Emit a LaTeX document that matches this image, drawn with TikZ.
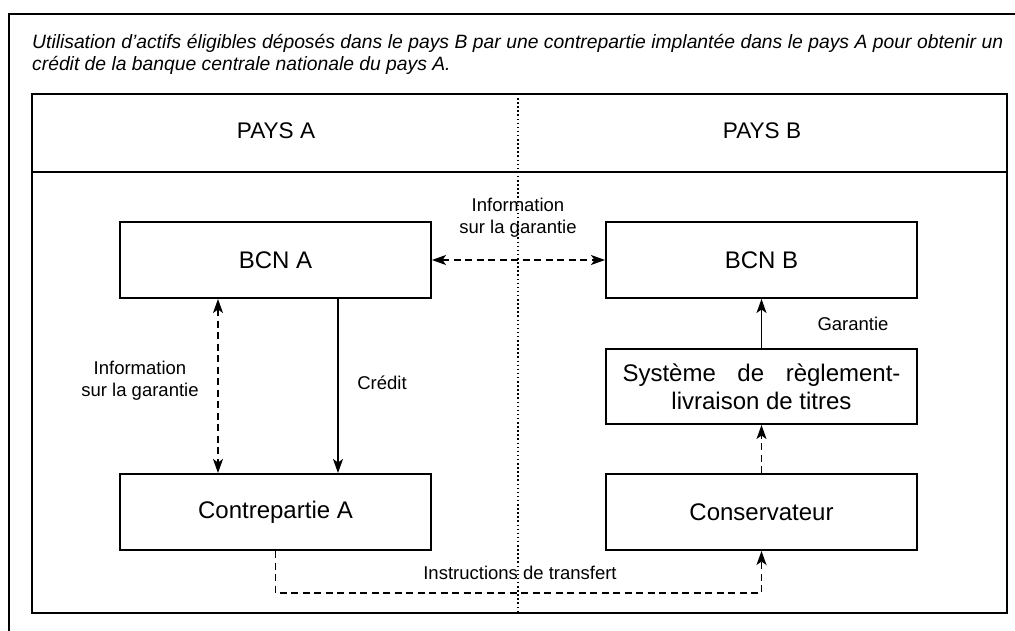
\documentclass[tikz,border=0pt]{standalone}
\usepackage{fontspec}
\setmainfont{Liberation Sans}
\usetikzlibrary{arrows.meta}
\tikzset{%
    frame/.style={draw, line width=2pt},
    bank/.style={%
        frame, inner sep=0pt, minimum width=311pt, minimum height=76pt,
        font=\fontsize{24}{28}\selectfont, align=center
    },
    lbl/.style={font=\fontsize{18.5}{22}\selectfont, align=center},
    flow/.style={line width=1.2pt, -{Stealth[length=14pt,width=10pt,inset=3.5pt]}},
    dflow/.style={flow, dash pattern=on 7pt off 4.5pt},
}

\begin{document}
\begin{tikzpicture}[x=1pt,y=-1pt]
\useasboundingbox (0,0) rectangle (1015,631);
%\draw [help lines] (0,0) grid (1015,631);
% frames
\draw[frame] (9,660) |- (1040,14);
\node[anchor=north west, inner sep=0pt, align=left,
      font=\itshape\fontsize{19.3}{22}\selectfont] (T) at (32,34)
  {\makebox[971pt][s]{Utilisation d'actifs éligibles déposés dans le pays B par une contrepartie implantée dans le pays A pour obtenir un}\\
   crédit de la banque centrale nationale du pays A.};
\draw[frame] (32,94) rectangle (1007,613);
\draw[frame] (32,172) -- (1007,172);
\draw[line width=2pt, dash pattern=on 1.5pt off 2.6pt] (518,94) -- (518,613);

\node[font=\fontsize{22.6}{26}\selectfont] (PA) at (276,131) {PAYS A};
\node[font=\fontsize{22.6}{26}\selectfont] (PB) at (762,131) {PAYS B};

\node[bank] (BA) at (275.5,260) {BCN A};
\node[bank] (BB) at (761.5,260) {BCN B};
\node[bank, minimum height=75pt] (SR) at (761.5,386.5)
  {\makebox[278pt][s]{Système de règlement-}\\livraison de titres};
\node[bank] (CA) at (275.5,512) {Contrepartie A};
\node[bank] (CO) at (761.5,512) {Conservateur};

\coordinate (BAl) at ([xshift=-57.5pt]BA.south);
\coordinate (CAl) at ([xshift=-57.5pt]CA.north);
\coordinate (BAr) at ([xshift=62.5pt]BA.south);
\coordinate (CAr) at ([xshift=62.5pt]CA.north);

\node[lbl] (L1) at (518,218) {Information\\sur la garantie};
\node[lbl] (L2) at (140,381) {Information\\sur la garantie};
\node[lbl] (L3) at (382,383) {Crédit};
\node[lbl] (L4) at (853,324) {Garantie};
\node[lbl] (L5) at (520,573) {Instructions de transfert};

% BCN A to BCN B
\draw[dflow, {Stealth[length=14pt,width=10pt,inset=3.5pt]}-{Stealth[length=14pt,width=10pt,inset=3.5pt]}] (BA.east) -- (BB.west);
% BCN A to Contrepartie A
\draw[dflow, {Stealth[length=14pt,width=10pt,inset=3.5pt]}-{Stealth[length=14pt,width=10pt,inset=3.5pt]}] (BAl) -- (CAl);
% credit
\draw[flow] (BAr) -- (CAr);
% SRL to BCN B
\draw[flow] (SR.north) -- (BB.south);
% Conservateur to SRL
\draw[dflow] (CO.north) -- (SR.south);
% Contrepartie A to Conservateur
\draw[dflow] (CA.south) -- ++(0,42) -| (CO.south);
\end{tikzpicture}
\end{document}
